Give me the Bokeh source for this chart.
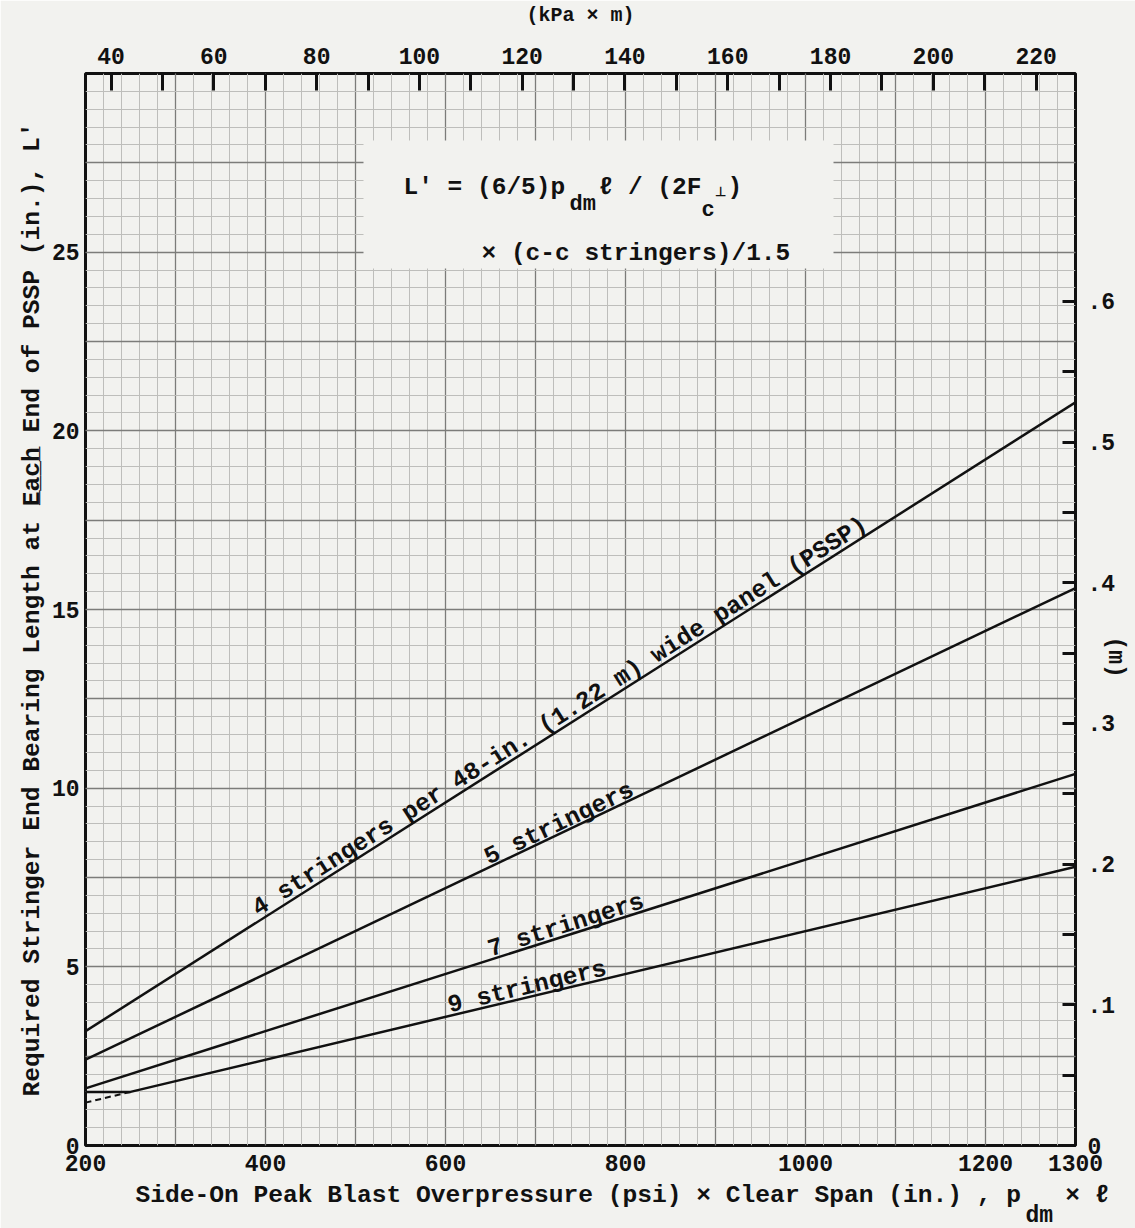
import math

from bokeh.core.properties import value
from bokeh.embed import file_html
from bokeh.models import (ColumnDataSource, CustomJSTickFormatter, FixedTicker,
                          Label, LinearAxis, Range1d, Title)
from bokeh.plotting import figure
from bokeh.resources import INLINE

# ---- data: required end bearing length L' (in.) vs p_dm * l (psi-in.) ----
span_x = [200, 1300]
len_4_stringers = [3.2, 20.8]
len_5_stringers = [2.4, 15.6]
len_7_stringers = [1.6, 10.4]
len_9_x = [200, 250, 1300]
len_9_stringers = [1.5, 1.5, 7.8]          # held at the 1.5 in. minimum
len_9_dash_x = [200, 250]
len_9_dash = [1.2, 1.5]

curve_labels = [
    "4 stringers per 48-in. (1.22 m) wide panel (PSSP)",
    "5 stringers",
    "7 stringers",
    "9 stringers",
]
curve_label_x = [388, 645, 648, 603]
curve_label_lift = [-13, -10, -10, -10]

bottom_ticks = [200, 400, 600, 800, 1000, 1200, 1300]
left_ticks = [0, 5, 10, 15, 20, 25]
top_ticks = [40, 60, 80, 100, 120, 140, 160, 180, 200, 220]
top_minor_ticks = [50, 70, 90, 110, 130, 150, 170, 190, 210]
right_ticks = [0, 0.1, 0.2, 0.3, 0.4, 0.5, 0.6]
right_minor_ticks = [0.05, 0.15, 0.25, 0.35, 0.45, 0.55]

# unit conversions for the secondary scales
PSI_IN_TO_KPA_M = 6.894757 * 0.0254
IN_TO_M = 0.0254

X0, X1 = 200, 1300
Y0, Y1 = 0, 30

W, H = 1135, 1228
B_LEFT, B_RIGHT, B_TOP, B_BOTTOM = 85, 60, 73, 83
FRAME_W = W - B_LEFT - B_RIGHT
FRAME_H = H - B_TOP - B_BOTTOM

PAPER = "#f2f2ef"
INK = "#111111"
FONT = "Liberation Mono"
NB = "\u00a0"


def sx(px):
    """canvas pixel column -> psi-in. value"""
    return X0 + (px - B_LEFT) * (X1 - X0) / FRAME_W


def sy(py):
    """canvas pixel row -> inch value"""
    return (B_TOP + FRAME_H - py) * (Y1 - Y0) / FRAME_H


p = figure(width=W, height=H, x_range=Range1d(X0, X1), y_range=Range1d(Y0, Y1),
           output_backend="svg", toolbar_location=None,
           min_border_left=B_LEFT, min_border_right=B_RIGHT,
           min_border_top=B_TOP, min_border_bottom=B_BOTTOM)
p.background_fill_color = PAPER
p.border_fill_color = PAPER
p.outline_line_color = INK
p.outline_line_width = 3

p.extra_x_ranges = {"kpa": Range1d(X0 * PSI_IN_TO_KPA_M, X1 * PSI_IN_TO_KPA_M)}
p.extra_y_ranges = {"m": Range1d(Y0 * IN_TO_M, Y1 * IN_TO_M)}

# graph-paper grid
p.xgrid.ticker = FixedTicker(ticks=list(range(200, 1301, 100)),
                             minor_ticks=list(range(200, 1301, 20)))
p.ygrid.ticker = FixedTicker(ticks=[i * 2.5 for i in range(13)],
                             minor_ticks=[i * 0.5 for i in range(61)])
for g in (p.xgrid, p.ygrid):
    g.grid_line_color = "#7c7c7a"
    g.grid_line_width = 1.3
    g.minor_grid_line_color = "#bebebb"
    g.minor_grid_line_width = 1


def style_axis(ax, size="23px"):
    ax.axis_line_color = None
    ax.major_label_text_font = FONT
    ax.major_label_text_font_style = "bold"
    ax.major_label_text_font_size = size
    ax.major_label_text_color = INK
    ax.axis_label_text_font = FONT
    ax.axis_label_text_font_style = "bold"
    ax.axis_label_text_color = INK
    ax.major_tick_line_color = INK
    ax.minor_tick_line_color = INK
    ax.major_tick_line_width = 3
    ax.minor_tick_line_width = 3


# bottom axis
xa = p.xaxis[0]
style_axis(xa)
xa.ticker = FixedTicker(ticks=bottom_ticks)
xa.major_tick_in = 0
xa.major_tick_out = 0
xa.minor_tick_in = 0
xa.minor_tick_out = 0
xa.major_label_standoff = 9

# left axis
ya = p.yaxis[0]
style_axis(ya)
ya.ticker = FixedTicker(ticks=left_ticks)
ya.major_tick_in = 0
ya.major_tick_out = 0
ya.minor_tick_in = 0
ya.minor_tick_out = 0
ya.major_label_standoff = 6
ya.axis_label = "Required Stringer End Bearing Length at E\u0332a\u0332c\u0332h\u0332 End of PSSP (in.), L'"
ya.axis_label_text_font_size = "24.6px"
ya.axis_label_standoff = 3

# top axis (kPa x m)
top = LinearAxis(x_range_name="kpa")
style_axis(top)
top.ticker = FixedTicker(ticks=top_ticks, minor_ticks=top_minor_ticks)
top.major_tick_in = 17
top.major_tick_out = 0
top.minor_tick_in = 17
top.minor_tick_out = 0
top.major_label_standoff = 10
top.axis_label = "(kPa \u00d7 m)"
top.axis_label_text_font_size = "20px"
top.axis_label_standoff = 18
p.add_layout(top, "above")

# right axis (m)
right = LinearAxis(y_range_name="m")
style_axis(right)
right.ticker = FixedTicker(ticks=right_ticks, minor_ticks=right_minor_ticks)
right.formatter = CustomJSTickFormatter(
    code="return tick == 0 ? '0' : tick.toFixed(1).replace(/^0/, '');")
right.major_tick_in = 13
right.major_tick_out = 0
right.minor_tick_in = 13
right.minor_tick_out = 0
right.major_label_standoff = 12
p.add_layout(right, "right")

# right-hand unit title
p.add_layout(Title(text="(m)", align="left", offset=563, standoff=-34,
                   text_font=FONT, text_font_style="bold", text_font_size="23px",
                   text_color=INK), "right")

# bottom title: main line, then the dm subscript beneath the p
p.add_layout(Title(text="Side-On Peak Blast Overpressure (psi) \u00d7 Clear Span (in.) , p"
                        + NB * 3 + "\u00d7 \u2113",
                   align="left", offset=50, standoff=12,
                   text_font=FONT, text_font_style="bold", text_font_size="24.6px",
                   text_color=INK), "below")
p.add_layout(Title(text="dm", align="left", offset=940, standoff=-28,
                   text_font=FONT, text_font_style="bold", text_font_size="23px",
                   text_color=INK), "below")

# formula panel, cut out of the grid
p.quad(left=[sx(363)], right=[sx(833)], bottom=[sy(268)], top=[sy(140)],
       fill_color=PAPER, line_color=None)

# curves
p.line(span_x, len_4_stringers, line_color=INK, line_width=2.5)
p.line(span_x, len_5_stringers, line_color=INK, line_width=2.5)
p.line(span_x, len_7_stringers, line_color=INK, line_width=2.5)
p.line(len_9_x, len_9_stringers, line_color=INK, line_width=2.5)
p.line(len_9_dash_x, len_9_dash, line_color=INK, line_width=2, line_dash="6 4")

# curve labels, laid along each line
px_per_x = FRAME_W / (X1 - X0)
px_per_y = FRAME_H / (Y1 - Y0)
curves = [(span_x, len_4_stringers), (span_x, len_5_stringers),
          (span_x, len_7_stringers), (len_9_x[1:], len_9_stringers[1:])]
lab_y, lab_ang = [], []
for xs_, (cx, cy) in zip(curve_label_x, curves):
    slope = (cy[-1] - cy[0]) / (cx[-1] - cx[0])
    lab_y.append(cy[0] + slope * (xs_ - cx[0]))
    lab_ang.append(math.atan(slope * px_per_y / px_per_x))
lab_src = ColumnDataSource(dict(x=curve_label_x, y=lab_y, text=curve_labels,
                                angle=lab_ang, lift=curve_label_lift))
p.text(x="x", y="y", text="text", angle="angle", y_offset="lift", source=lab_src,
       text_font=value(FONT), text_font_style="bold", text_font_size="24.6px",
       text_color=INK, text_align="left", text_baseline="alphabetic")


def add_label(px, py, text, size="24.5px"):
    p.add_layout(Label(x=sx(px), y=sy(py), text=text, text_font=FONT,
                       text_font_style="bold", text_font_size=size,
                       text_color=INK, text_baseline="alphabetic", text_align="left"))


# formula
add_label(403, 187, "L' = (6/5)p")
add_label(569, 204, "dm", size="22px")
add_label(598, 187, "\u2113 / (2F")
add_label(701, 210, "c", size="22px")
add_label(714, 192, "\u22a5", size="13px")
add_label(727, 187, ")")
add_label(481, 253, "\u00d7 (c-c stringers)/1.5")

open("out.html", "w").write(file_html(p, INLINE))
